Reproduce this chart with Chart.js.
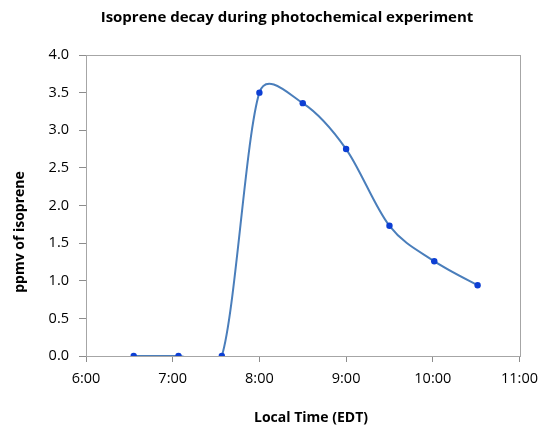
<!DOCTYPE html>
<html>
<head>
<meta charset="utf-8">
<script src="https://cdn.jsdelivr.net/npm/chart.js@4/dist/chart.umd.min.js"></script>
<style>
  html, body { margin: 0; padding: 0; background: #fff; }
  #wrap { width: 546px; height: 429px; position: relative; }
</style>
</head>
<body>
<div id="wrap"><canvas id="isoChart"></canvas></div>
<script>
/* ── data ── */
var SAMPLE_TIMES = ['6:33', '7:04', '7:34', '8:00', '8:30', '9:00', '9:30', '10:01', '10:31'];
var ISOPRENE_PPMV = [0, 0, 0, 3.50, 3.36, 2.75, 1.73, 1.26, 0.94];
var X_TICK_HOURS = [6, 7, 8, 9, 10, 11];
var Y_TICKS = [0, 0.5, 1, 1.5, 2, 2.5, 3, 3.5, 4];

var CHART_TITLE = 'Isoprene decay during photochemical experiment';
var X_TITLE = 'Local Time (EDT)';
var Y_TITLE = 'ppmv of isoprene';

var toHours = function(s) { var p = s.split(':'); return parseInt(p[0]) + parseInt(p[1]) / 60; };
var points = SAMPLE_TIMES.map(function(t, i) { return { x: toHours(t), y: ISOPRENE_PPMV[i] }; });

var AXIS_GREY = '#8c8c8c';
var FONT = "'Open Sans', 'Liberation Sans', sans-serif";

/* ── plot frame (Excel style box round the plot area) ── */
var framePlugin = {
  id: 'plotFrame',
  beforeDatasetsDraw: function(chart) {
    var a = chart.chartArea, c = chart.ctx;
    c.save();
    c.strokeStyle = '#a6a6a6';
    c.lineWidth = 1;
    c.strokeRect(Math.round(a.left) + 0.5, Math.round(a.top) + 0.5,
                 Math.round(a.right - a.left), Math.round(a.bottom - a.top));
    c.restore();
  }
};

/* ── Excel-like smoothing: 1/6 neighbour span, capped at half the segment ── */
var excelSmooth = {
  id: 'excelSmooth',
  beforeDatasetDraw: function(chart, args) {
    var meta = args.meta, line = meta.dataset, pts = meta.data;
    line.updateControlPoints(chart.chartArea, 'x');
    var dist = function(a, b) { return Math.hypot(b.x - a.x, b.y - a.y); };
    for (var i = 0; i < pts.length; i++) {
      var p = pts[i];
      var prev = pts[Math.max(i - 1, 0)], next = pts[Math.min(i + 1, pts.length - 1)];
      var dx = (next.x - prev.x) / 6, dy = (next.y - prev.y) / 6;
      var len = Math.hypot(dx, dy) || 1;
      var kIn  = Math.min(1, dist(prev, p) / 2 / len);
      var kOut = Math.min(1, dist(p, next) / 2 / len);
      p.cp1x = p.x - dx * kIn;  p.cp1y = p.y - dy * kIn;
      p.cp2x = p.x + dx * kOut; p.cp2y = p.y + dy * kOut;
    }
  }
};

/* ── titles placed the way Excel put them ── */
var titlesPlugin = {
  id: 'excelTitles',
  afterDraw: function(chart) {
    var c = chart.ctx;
    c.save();
    c.fillStyle = '#000';
    c.textAlign = 'center';
    c.textBaseline = 'middle';
    c.font = "bold 15px " + FONT;
    c.fillText(CHART_TITLE, 287, 18);
    c.font = "bold 14px " + FONT;
    c.fillText(X_TITLE, 311, 418);
    c.translate(20, 232);
    c.rotate(-Math.PI / 2);
    c.fillText(Y_TITLE, 0, 0);
    c.restore();
  }
};

new Chart(document.getElementById('isoChart'), {
  type: 'line',
  data: {
    datasets: [{
      label: 'isoprene',
      data: points,
      borderColor: '#4a7ebb',
      borderWidth: 2,
      tension: 0.4,
      pointRadius: 3.2,
      pointBackgroundColor: '#0d3fd4',
      pointBorderColor: '#0d3fd4',
      pointBorderWidth: 0,
      fill: false
    }]
  },
  plugins: [framePlugin, excelSmooth, titlesPlugin],
  options: {
    responsive: true, maintainAspectRatio: false, animation: false,
    layout: { padding: { left: 0, right: 22, top: 55, bottom: 0 } },
    plugins: {
      legend: { display: false },
      tooltip: { enabled: false },
      title: { display: false }
    },
    scales: {
      x: {
        type: 'linear', min: 6, max: 11,
        afterBuildTicks: function(s) { s.ticks = X_TICK_HOURS.map(function(v) { return { value: v }; }); },
        afterFit: function(s) { s.height = 73; },
        border: { color: AXIS_GREY },
        grid: { drawOnChartArea: false, color: AXIS_GREY, tickLength: 6 },
        ticks: {
          color: '#000', padding: 8, maxRotation: 0,
          font: { family: FONT, size: 14.5 },
          callback: function(v) { return v + ':00'; }
        }
      },
      y: {
        min: 0, max: 4,
        afterBuildTicks: function(s) { s.ticks = Y_TICKS.map(function(v) { return { value: v }; }); },
        afterFit: function(s) { s.width = 86; },
        border: { color: AXIS_GREY },
        grid: { drawOnChartArea: false, color: AXIS_GREY, tickLength: 7 },
        ticks: {
          color: '#000', padding: 10,
          font: { family: FONT, size: 14.5 },
          callback: function(v) { return Number(v).toFixed(1); }
        }
      }
    }
  }
});
</script>
</body>
</html>
